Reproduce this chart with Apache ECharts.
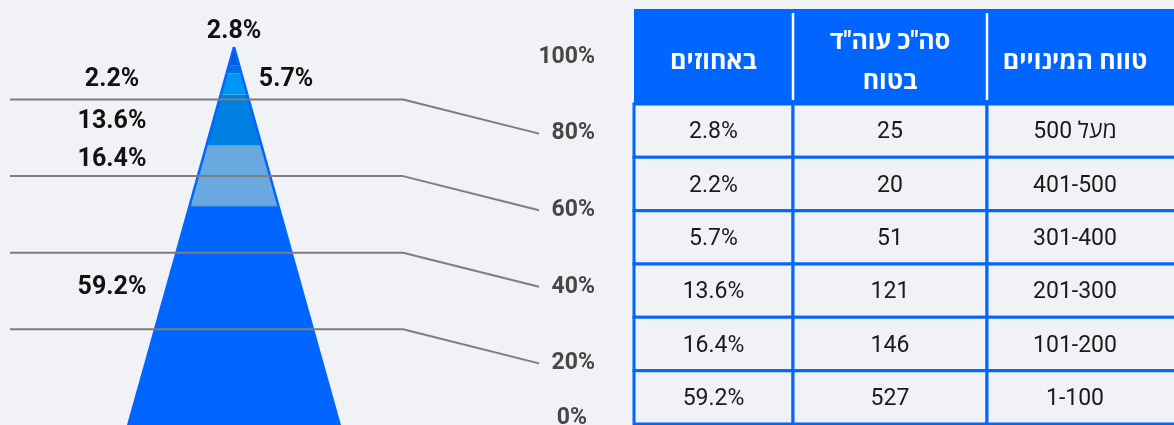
<!DOCTYPE html>
<html>
<head>
<meta charset="utf-8">
<script src="https://cdn.jsdelivr.net/npm/echarts@6/dist/echarts.min.js"></script>
<style>
  html, body { margin: 0; padding: 0; background: #f1f2f6; }
  #chart { width: 1174px; height: 425px; }
</style>
</head>
<body>
<div id="chart"></div>
<script>
// data, top row = highest range
const ranges = ['מעל 500', '401-500', '301-400', '201-300', '101-200', '1-100'];
const counts = [25, 20, 51, 121, 146, 527];
const shares = [2.8, 2.2, 5.7, 13.6, 16.4, 59.2];
const axisTicks = [0, 20, 40, 60, 80, 100];
const guideTicks = [80, 60, 40, 20];
const headers = ['באחוזים', 'סה"כ עוה"ד\nבטוח', 'טווח המינויים'];

// look
const FONT = 'Roboto, "Open Sans", "Liberation Sans", "DejaVu Sans", sans-serif';
const BLUE = '#0066ff';
const BG = '#f1f2f6';
const segColors = ['#005ad9', '#0072e6', '#0096f2', '#0080e2', '#6aa9e0', '#0066ff'];
const labelPlace = [
  { side: 'top', dy: -15 },
  { side: 'left', dy: 10 },
  { side: 'right', dy: -4 },
  { side: 'left', dy: 2 },
  { side: 'left', dy: -16 },
  { side: 'left', dy: -28 }
];
const APEX = 102;          // tip of the pyramid sits a bit over the last band
const LINE_BREAK = 74.3;   // where the guide lines start to slope
const LINE_RISE = 8.9;
const colEdges = [0, 159, 353, 529];

// stack the bands bottom-up
const segData = [];
let acc = 0;
for (let i = shares.length - 1; i >= 0; i--) {
  const hi = i === 0 ? APEX : acc + shares[i];
  segData.push([acc, hi, i]);
  acc += shares[i];
}

function renderSegment(params, api) {
  const lo = api.value(0), hi = api.value(1), i = api.value(2);
  const hw = v => (APEX - v) / APEX;
  const bl = api.coord([-hw(lo), lo]), br = api.coord([hw(lo), lo]);
  const tr = api.coord([hw(hi), hi]), tl = api.coord([-hw(hi), hi]);
  const mid = api.coord([0, (lo + hi) / 2]);
  const place = labelPlace[i];
  let lx = mid[0], ly = mid[1] + place.dy;
  if (place.side === 'top') ly = tl[1] + place.dy;
  if (place.side === 'left') lx = mid[0] - 122;
  if (place.side === 'right') lx = mid[0] + 52;
  return {
    type: 'group',
    children: [
      { type: 'polygon', shape: { points: [bl, br, tr, tl] },
        style: { fill: segColors[i], stroke: i === 4 ? '#4f92d8' : null, lineWidth: 1 } },
      { type: 'line', shape: { x1: bl[0], y1: bl[1], x2: tl[0], y2: tl[1] },
        style: { stroke: BLUE, lineWidth: 2.5 } },
      { type: 'line', shape: { x1: br[0], y1: br[1], x2: tr[0], y2: tr[1] },
        style: { stroke: BLUE, lineWidth: 2.5 } },
      { type: 'text', x: lx, y: ly,
        style: { text: shares[i].toFixed(1) + '%', fill: '#111', fontSize: 25, fontWeight: 'bold',
                 fontFamily: FONT, align: 'center', verticalAlign: 'middle' } }
    ]
  };
}

function renderHeader(params, api) {
  const c = api.value(0);
  const last = c === colEdges.length - 2;
  const a = api.coord([colEdges[c], 1]);
  const b = api.coord([last ? 600 : colEdges[c + 1], 0]);
  const xm = api.coord([(colEdges[c] + colEdges[c + 1]) / 2, 0])[0];
  const children = [
    { type: 'rect', shape: { x: a[0], y: a[1], width: b[0] - a[0], height: b[1] - a[1] },
      style: { fill: BLUE } },
    { type: 'text', x: xm, y: (a[1] + b[1]) / 2 + 6,
      style: { text: headers[c], fill: '#fff', fontSize: 25, fontWeight: 'bold', fontFamily: FONT,
               align: 'center', verticalAlign: 'middle', lineHeight: 40 } }
  ];
  if (c > 0) {
    children.push({ type: 'line', shape: { x1: a[0], y1: a[1] + 4, x2: a[0], y2: b[1] - 4 },
      style: { stroke: '#fff', lineWidth: 2.5 } });
  }
  return { type: 'group', children: children };
}

function renderCell(params, api) {
  const c = api.value(0), r = api.value(1);
  const last = c === colEdges.length - 2;
  const cy = api.coord([0, r])[1];
  const h = api.size([0, 1])[1];
  const xa = api.coord([colEdges[c], r])[0];
  const xb = api.coord([last ? 600 : colEdges[c + 1], r])[0];
  const xm = api.coord([(colEdges[c] + colEdges[c + 1]) / 2, r])[0];
  const txt = c === 0 ? shares[r].toFixed(1) + '%' : c === 1 ? String(counts[r]) : ranges[r];
  return {
    type: 'group',
    children: [
      { type: 'rect', shape: { x: xa, y: cy - h / 2, width: xb - xa, height: h },
        style: { fill: BG, stroke: BLUE, lineWidth: 3 } },
      { type: 'text', x: xm, y: cy + 2,
        style: { text: txt, fill: '#1a1a1a', fontSize: 23, fontFamily: FONT,
                 align: 'center', verticalAlign: 'middle' } }
    ]
  };
}

const cellData = [];
ranges.forEach((_, r) => headers.forEach((_, c) => cellData.push([c, r])));

const hidden = { show: false };
const myChart = echarts.init(document.getElementById('chart'));
const option = {
  backgroundColor: BG,
  animation: false,
  grid: [
    { left: 128, width: 212, top: 47, height: 379, outerBoundsMode: 'none' },
    { left: 10, width: 529, top: 57, height: 383, outerBoundsMode: 'none' },
    { left: 634, right: 0, top: 9, height: 95, outerBoundsMode: 'none' },
    { left: 634, right: 0, top: 104, height: 320, outerBoundsMode: 'none' }
  ],
  xAxis: [
    { gridIndex: 0, type: 'value', min: -1, max: 1, show: false },
    { gridIndex: 1, type: 'value', min: 0, max: 100, show: false },
    { gridIndex: 2, type: 'value', min: 0, max: 540, show: false },
    { gridIndex: 3, type: 'value', min: 0, max: 540, show: false }
  ],
  yAxis: [
    { gridIndex: 0, type: 'value', min: 0, max: APEX, show: false },
    {
      gridIndex: 1, type: 'value', position: 'right',
      min: axisTicks[0], max: axisTicks[axisTicks.length - 1], interval: axisTicks[1] - axisTicks[0],
      axisLine: hidden, axisTick: hidden, splitLine: hidden,
      axisLabel: {
        margin: 56, align: 'right', color: '#474747', fontSize: 23, fontWeight: 'bold', fontFamily: FONT,
        formatter: v => v === 0 ? '{z|0%}' : v + '%',
        rich: { z: { padding: [0, 8, 44, 0], color: '#474747', fontSize: 23, fontWeight: 'bold', fontFamily: FONT } }
      }
    },
    { gridIndex: 2, type: 'value', min: 0, max: 1, show: false },
    { gridIndex: 3, type: 'category', data: ranges, inverse: true, show: false }
  ],
  series: [
    ...guideTicks.map(v => ({
      type: 'line', xAxisIndex: 1, yAxisIndex: 1, silent: true, symbol: 'none',
      lineStyle: { color: '#7d7d7d', width: 2 },
      data: [[0, v + LINE_RISE], [LINE_BREAK, v + LINE_RISE], [100, v]]
    })),
    { type: 'custom', xAxisIndex: 0, yAxisIndex: 0, silent: true, renderItem: renderSegment, data: segData },
    { type: 'custom', xAxisIndex: 2, yAxisIndex: 2, silent: true, renderItem: renderHeader,
      data: headers.map((_, c) => [c]) },
    { type: 'custom', xAxisIndex: 3, yAxisIndex: 3, silent: true, renderItem: renderCell, data: cellData }
  ]
};
myChart.setOption(option);
</script>
</body>
</html>
